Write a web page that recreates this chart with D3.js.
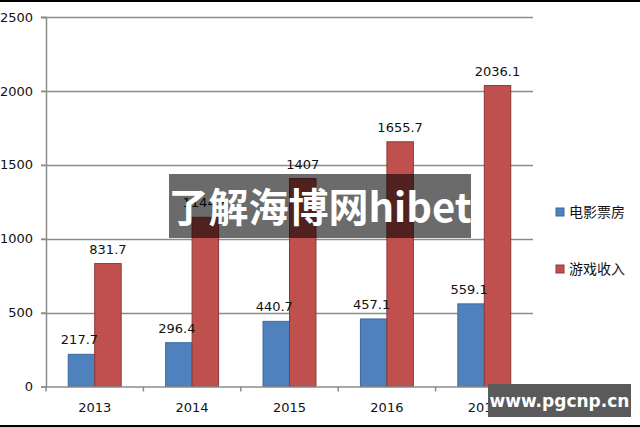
<!DOCTYPE html>
<html><head><meta charset="utf-8">
<script src="https://cdn.jsdelivr.net/npm/d3@7"></script>
<style>body{margin:0;background:#fff}svg{display:block}</style>
</head><body>
<svg id="c" width="640" height="427"></svg>
<script>
const categories = ["2013","2014","2015","2016","2017"];
const seriesNames = ["电影票房","游戏收入"];
const boxOffice = [217.7, 296.4, 440.7, 457.1, 559.1];
const gameRevenue = [831.7, 1144.8, 1407, 1655.7, 2036.1];
const yTicks = [0, 500, 1000, 1500, 2000, 2500];
const colors = ["#4f81bd", "#c0504d"];
const strokes = ["#3d6a9e", "#8e3835"];

(function(){
const svg = d3.select("#c");
const pL = 46, pR = 533, pT = 17, pB = 386.5;
const y = d3.scaleLinear().domain([0, 2500]).range([pB, pT]);
const x0 = d3.scaleBand().domain(categories).range([pL, pR]).padding(0);
const x1 = d3.scaleBand().domain(seriesNames).range([0, x0.bandwidth()]).paddingInner(0).paddingOuter(0.84);

// borders
svg.append("rect").attr("x",0).attr("y",0).attr("width",640).attr("height",2).attr("fill","#000");
svg.append("rect").attr("x",0).attr("y",425).attr("width",640).attr("height",2).attr("fill","#000");

// gridlines
svg.append("g").selectAll("line").data(yTicks.filter(d=>d>0)).join("line")
  .attr("x1", pL-5).attr("x2", pR).attr("y1", d=>Math.round(y(d))+0.5).attr("y2", d=>Math.round(y(d))+0.5)
  .attr("stroke","#8c8c8c").attr("stroke-width",1.5);

// y axis
const yAxis = d3.axisLeft(y).tickValues(yTicks).tickFormat(d3.format("d")).tickSize(5).tickPadding(8);
const ga = svg.append("g").attr("transform",`translate(${pL},0)`).call(yAxis);
ga.select(".domain").attr("stroke","#8c8c8c").attr("stroke-width",1.5);
ga.selectAll(".tick line").attr("stroke","#8c8c8c").attr("stroke-width",1.5);
ga.selectAll("text").attr("font-family","DejaVu Sans").attr("font-size",13).attr("fill","#111");

// bars
const data = categories.map((c,i)=>({cat:c, vals:[boxOffice[i], gameRevenue[i]]}));
const groups = svg.append("g").selectAll("g").data(data).join("g")
  .attr("transform", d=>`translate(${x0(d.cat)},0)`);
groups.selectAll("rect").data(d=>d.vals.map((v,j)=>({s:seriesNames[j], v, j}))).join("rect")
  .attr("x", d=>x1(d.s)).attr("width", x1.bandwidth())
  .attr("y", d=>y(d.v)).attr("height", d=>y(0)-y(d.v))
  .attr("fill", d=>colors[d.j]).attr("stroke", d=>strokes[d.j]).attr("stroke-width",1);

// value labels
groups.selectAll("text").data(d=>d.vals.map((v,j)=>({s:seriesNames[j], v, j}))).join("text")
  .attr("x", d=>x1(d.s)+x1.bandwidth()/2 + (d.j===0?-2:0))
  .attr("y", d=>y(d.v)-10)
  .attr("text-anchor","middle").attr("font-family","DejaVu Sans").attr("font-size",13).attr("fill","#111")
  .text(d=>String(d.v));

// x axis
const xAxis = d3.axisBottom(x0).tickSize(0).tickPadding(16);
const gx = svg.append("g").attr("transform",`translate(0,${pB})`).call(xAxis);
gx.select(".domain").attr("stroke","#8c8c8c").attr("stroke-width",1.5);
gx.selectAll("text").attr("font-family","DejaVu Sans").attr("font-size",13).attr("fill","#111");
svg.append("g").selectAll("line").data(d3.range(categories.length+1)).join("line")
  .attr("x1", i=>pL + i*x0.step()).attr("x2", i=>pL + i*x0.step())
  .attr("y1", pB).attr("y2", pB+5).attr("stroke","#8c8c8c").attr("stroke-width",1.5);

// legend
const lg = svg.append("g").selectAll("g").data(seriesNames).join("g")
  .attr("transform",(d,i)=>`translate(556,${212 + i*57})`);
lg.append("rect").attr("x",0).attr("y",-4).attr("width",8).attr("height",8)
  .attr("fill",(d,i)=>colors[i]).attr("stroke",(d,i)=>strokes[i]);
lg.append("text").attr("x",13).attr("y",5).attr("font-family","Noto Sans CJK SC").attr("font-size",14).attr("fill","#111").text(d=>d);

// watermark 1
svg.append("rect").attr("x",169).attr("y",174).attr("width",302).attr("height",64).attr("fill","rgba(0,0,0,0.58)");
svg.append("text").attr("x",320).attr("y",222).attr("text-anchor","middle")
  .attr("font-family","Noto Sans CJK SC").attr("font-weight","bold").attr("font-size",40).attr("fill","#fff")
  .text("了解海博网hibet");

// watermark 2
svg.append("rect").attr("x",488).attr("y",384).attr("width",143).attr("height",33).attr("fill","#5a5a5a");
svg.append("text").attr("x",559.5).attr("y",407).attr("text-anchor","middle")
  .attr("font-family","DejaVu Sans").attr("font-weight","bold").attr("font-size",17).attr("fill","#fff")
  .text("www.pgcnp.cn");
})();
</script>
</body></html>
